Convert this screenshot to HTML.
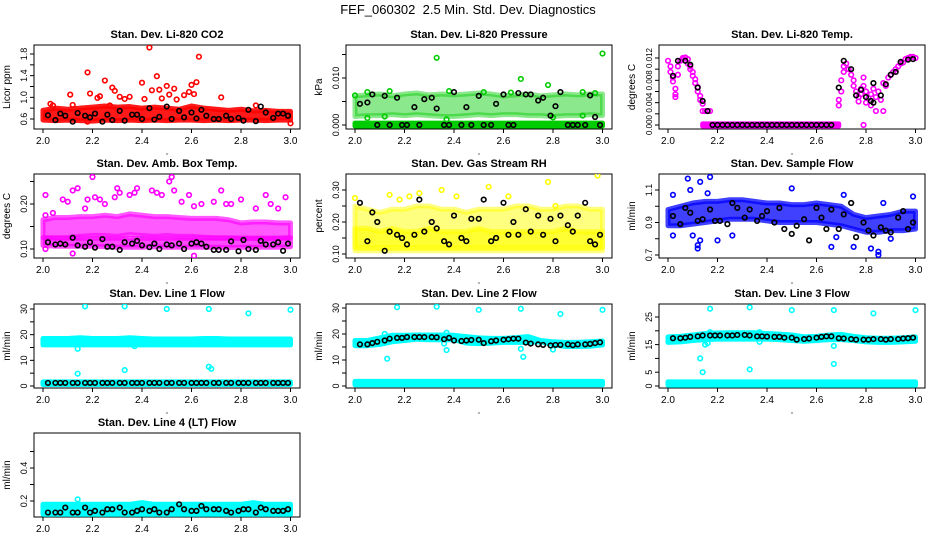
<!DOCTYPE html>
<html><head><meta charset="utf-8"><style>
html,body{margin:0;padding:0;background:#fff}
svg{display:block;font-family:"Liberation Sans",sans-serif}
</style></head><body>
<svg id="chart" width="936" height="540" viewBox="0 0 936 540">
<text x="468" y="14" text-anchor="middle" font-size="13">FEF_060302&#160; 2.5 Min. Std. Dev. Diagnostics</text>
</svg>
<script>
// shared x grids (time)
const xs21=[2.00,2.05,2.10,2.15,2.20,2.25,2.30,2.35,2.40,2.45,2.50,2.55,2.60,2.65,2.70,2.75,2.80,2.85,2.90,2.95,3.00];
const xsB=[2.02,2.05,2.07,2.09,2.12,2.14,2.17,2.19,2.21,2.24,2.26,2.28,2.31,2.33,2.36,2.38,2.40,2.43,2.45,2.47,2.50,2.52,2.55,2.57,2.60,2.62,2.64,2.66,2.69,2.71,2.74,2.76,2.79,2.81,2.83,2.86,2.88,2.90,2.93,2.95,2.97,2.99];
const xsFull=[2.00,3.00];

// P1 CO2
const co2Lo=[0.58,0.57,0.58,0.57,0.56,0.58,0.57,0.58,0.57,0.58,0.57,0.58,0.58,0.57,0.58,0.57,0.58,0.58,0.57,0.58,0.58];
const co2Hi=[0.76,0.80,0.78,0.80,0.82,0.84,0.82,0.83,0.80,0.82,0.80,0.78,0.84,0.80,0.78,0.76,0.78,0.75,0.76,0.74,0.74];
const co2OutX=[2.03,2.04,2.11,2.12,2.18,2.19,2.22,2.23,2.25,2.27,2.28,2.29,2.31,2.33,2.35,2.40,2.41,2.43,2.44,2.46,2.47,2.48,2.50,2.51,2.53,2.54,2.57,2.59,2.60,2.61,2.62,2.63,2.72,2.86,2.18,3.00];
const co2OutY=[0.88,0.85,1.05,0.86,1.46,1.07,0.99,1.02,1.31,0.85,1.18,1.12,1.01,0.97,1.01,1.27,0.97,1.92,1.13,1.39,1.14,0.98,1.21,1.05,1.16,0.96,1.04,1.10,1.23,1.06,1.28,1.75,1.00,0.85,0.55,0.52];
const co2Blk=[0.67,0.58,0.70,0.66,0.55,0.71,0.66,0.63,0.70,0.55,0.68,0.58,0.75,0.57,0.68,0.68,0.60,0.80,0.59,0.64,0.83,0.60,0.75,0.63,0.72,0.61,0.77,0.66,0.60,0.60,0.66,0.60,0.62,0.57,0.77,0.56,0.83,0.72,0.62,0.70,0.70,0.66];

// P2 Pressure
const prZeroLo=[-0.0002,-0.0002], prZeroHi=[0.0004,0.0004];
const prLo=[0.0018,0.0020,0.0020,0.0022,0.0020,0.0022,0.0020,0.0018,0.0018,0.0020,0.0022,0.0020,0.0022,0.0022,0.0020,0.0020,0.0018,0.0020,0.0020,0.0022,0.0020];
const prHi=[0.0062,0.0064,0.0066,0.0062,0.0066,0.0068,0.0064,0.0066,0.0064,0.0066,0.0068,0.0066,0.0062,0.0064,0.0066,0.0062,0.0064,0.0066,0.0064,0.0066,0.0066];
const prOutX=[2.33,3.00,2.67,2.78,2.00,2.05,2.14,2.38,2.52,2.63,2.92,2.97,2.05,2.12,2.37,2.80,2.92];
const prOutY=[0.0143,0.0152,0.0098,0.0085,0.0063,0.0070,0.0072,0.0072,0.0070,0.0069,0.0070,0.0068,0.0015,0.0018,0.0012,0.0016,0.0020];
const prBlk=[0.0045,0.0048,0.0065,0,0.0062,0,0.0058,0,0,0.0038,0,0.0055,0.0058,0.0035,0,0,0.0070,0,0.0038,0,0.0062,0,0,0.0045,0.0065,0,0,0.0068,0.0065,0.0065,0.0052,0.0058,0.0020,0.0040,0.0070,0,0,0,0,0.0063,0.0017,0];

// P3 Temp
const tpZeroX=[2.14,2.69], tpZeroLo=[-0.0002,-0.0002], tpZeroHi=[0.0002,0.0002];
const tpX=[2.00,2.01,2.01,2.02,2.02,2.03,2.03,2.03,2.04,2.04,2.05,2.06,2.06,2.07,2.08,2.08,2.09,2.09,2.10,2.10,2.11,2.11,2.12,2.12,2.13,2.13,2.14,2.14,2.15,2.16,2.17,2.69,2.69,2.70,2.70,2.71,2.71,2.72,2.73,2.74,2.75,2.75,2.76,2.77,2.77,2.78,2.78,2.79,2.79,2.80,2.80,2.81,2.82,2.82,2.83,2.84,2.84,2.85,2.86,2.87,2.87,2.88,2.89,2.90,2.91,2.92,2.93,2.94,2.95,2.96,2.97,2.98,2.99,3.00,2.79];
const tpY=[0.0115,0.0105,0.0095,0.0085,0.0078,0.0065,0.0055,0.0050,0.0090,0.0105,0.0115,0.0120,0.0118,0.0121,0.0118,0.0110,0.0105,0.0100,0.0095,0.0088,0.0082,0.0075,0.0068,0.0060,0.0052,0.0045,0.0038,0.0025,0.0025,0.0025,0.0025,0.0035,0.0045,0.0060,0.0080,0.0095,0.0105,0.0110,0.0100,0.0090,0.0080,0.0070,0.0060,0.0050,0.0042,0.0065,0.0055,0.0085,0.0070,0.0060,0.0040,0.0048,0.0055,0.0035,0.0065,0.0050,0.0025,0.0060,0.0045,0.0075,0.0025,0.0070,0.0085,0.0090,0.0095,0.0100,0.0105,0.0110,0.0112,0.0118,0.0120,0.0122,0.0122,0.0120,0.0000];
const tpBlkX=[2.02,2.04,2.07,2.09,2.12,2.14,2.16,2.18,2.20,2.22,2.24,2.26,2.28,2.30,2.32,2.34,2.36,2.38,2.40,2.42,2.44,2.46,2.48,2.50,2.52,2.54,2.56,2.58,2.60,2.62,2.64,2.66,2.69,2.71,2.74,2.76,2.78,2.80,2.82,2.83,2.83,2.86,2.88,2.90,2.92,2.94,2.97,2.99];
const tpBlkY=[0.0088,0.0115,0.0115,0.0108,0.0067,0.0043,0.0025,0,0,0,0,0,0,0,0,0,0,0,0,0,0,0,0,0,0,0,0,0,0,0,0,0,0.0067,0.0115,0.0100,0.0053,0.0063,0.0050,0.0043,0.0075,0.0040,0.0053,0.0073,0.0090,0.0095,0.0113,0.0117,0.0118];

// P4 Amb box temp
const abLo1=[0.125,0.125,0.125,0.128,0.130,0.130,0.128,0.132,0.130,0.128,0.130,0.128,0.128,0.126,0.125,0.125,0.124,0.124,0.124,0.124,0.125];
const abHi1=[0.165,0.170,0.170,0.172,0.172,0.175,0.172,0.178,0.175,0.172,0.172,0.170,0.168,0.168,0.168,0.165,0.158,0.160,0.160,0.158,0.158];
const abLo2=[0.108,0.106,0.106,0.106,0.106,0.105,0.104,0.104,0.104,0.105,0.104,0.104,0.104,0.104,0.104,0.103,0.104,0.104,0.104,0.104,0.105];
const abHi2=[0.125,0.124,0.124,0.124,0.124,0.124,0.124,0.124,0.124,0.124,0.124,0.124,0.124,0.124,0.124,0.124,0.124,0.124,0.124,0.124,0.125];
const abOutX=[2.01,2.01,2.04,2.08,2.10,2.12,2.14,2.17,2.18,2.20,2.21,2.23,2.25,2.29,2.30,2.31,2.35,2.37,2.38,2.44,2.44,2.46,2.48,2.51,2.52,2.53,2.56,2.59,2.61,2.64,2.69,2.72,2.74,2.76,2.80,2.86,2.90,2.92,2.95,2.98,2.61,2.12,2.01];
const abOutY=[0.22,0.175,0.18,0.21,0.205,0.23,0.235,0.19,0.21,0.26,0.215,0.21,0.20,0.215,0.235,0.225,0.22,0.225,0.235,0.275,0.23,0.225,0.22,0.25,0.26,0.23,0.205,0.22,0.195,0.20,0.205,0.23,0.20,0.20,0.21,0.19,0.22,0.20,0.19,0.215,0.085,0.09,0.10];
const abBlk=[0.115,0.110,0.112,0.110,0.125,0.108,0.105,0.115,0.103,0.122,0.105,0.105,0.098,0.115,0.112,0.118,0.108,0.104,0.112,0.100,0.110,0.108,0.112,0.100,0.112,0.115,0.112,0.105,0.098,0.098,0.098,0.117,0.095,0.120,0.100,0.098,0.118,0.110,0.110,0.115,0.096,0.112];

// P5 Gas stream RH
const rhLo=[0.11,0.11,0.11,0.11,0.11,0.11,0.11,0.11,0.11,0.11,0.11,0.11,0.11,0.11,0.11,0.11,0.11,0.11,0.11,0.11,0.11];
const rhHi=[0.25,0.24,0.23,0.24,0.24,0.25,0.25,0.24,0.24,0.23,0.24,0.24,0.24,0.25,0.25,0.24,0.24,0.25,0.25,0.24,0.24];
const rhLo2=[0.12,0.12,0.12,0.12,0.12,0.12,0.12,0.12,0.12,0.12,0.12,0.12,0.12,0.12,0.12,0.12,0.12,0.12,0.12,0.12,0.12];
const rhHi2=[0.18,0.18,0.17,0.18,0.17,0.17,0.18,0.17,0.17,0.17,0.18,0.17,0.17,0.17,0.17,0.17,0.17,0.18,0.17,0.17,0.17];
const rhOutX=[2.00,2.14,2.18,2.22,2.35,2.41,2.54,2.62,2.78,2.98,2.81,2.26];
const rhOutY=[0.275,0.285,0.27,0.28,0.30,0.28,0.31,0.28,0.325,0.345,0.25,0.29];
const rhBlk=[0.26,0.14,0.23,0.20,0.11,0.17,0.16,0.15,0.13,0.16,0.27,0.17,0.20,0.18,0.14,0.13,0.22,0.15,0.14,0.21,0.21,0.27,0.14,0.15,0.26,0.16,0.20,0.16,0.24,0.17,0.22,0.16,0.21,0.14,0.22,0.19,0.17,0.22,0.26,0.14,0.13,0.16];

// P6 Sample flow
const sfLo=[0.88,0.88,0.89,0.90,0.91,0.92,0.92,0.92,0.91,0.90,0.90,0.90,0.90,0.89,0.88,0.86,0.84,0.84,0.85,0.85,0.86];
const sfHi=[0.98,1.00,1.02,1.03,1.03,1.04,1.04,1.03,1.02,1.02,1.01,1.01,1.02,1.01,1.00,0.95,0.93,0.94,0.95,0.97,0.97];
const sfOutX=[2.08,2.09,2.13,2.16,2.17,2.02,2.10,2.02,2.12,2.12,2.13,2.20,2.26,2.50,2.71,2.66,2.75,2.82,2.85,2.85,2.99,2.87,2.90,2.68];
const sfOutY=[1.17,1.10,1.15,1.08,1.18,1.07,0.82,0.82,0.76,0.74,0.79,0.79,0.82,1.11,1.07,0.75,0.75,0.74,0.70,0.72,1.06,1.02,0.80,0.81];
const sfBlk=[0.94,0.89,0.99,0.96,0.91,0.92,0.98,0.91,0.91,0.89,1.02,0.99,0.93,0.98,0.91,0.94,0.97,0.90,0.99,0.86,0.83,0.88,0.92,0.79,0.99,0.93,0.86,0.98,0.86,0.95,1.02,0.81,0.90,0.85,0.82,0.87,0.85,0.84,0.93,0.97,0.86,0.90];

// P7 Line 1
const l1Lo=[16.0,16.0,16.0,16.0,16.0,16.0,16.0,16.0,16.0,16.0,16.0,16.0,16.0,16.0,16.0,16.0,16.0,16.0,16.0,16.0,16.0];
const l1Hi=[18.5,18.5,18.5,18.8,18.5,18.5,18.5,18.8,18.5,18.3,18.3,18.3,18.3,18.5,18.5,18.3,18.3,18.3,18.3,18.3,18.3];
const l1BLo=[0.6,0.6], l1BHi=[1.6,1.6];
const l1OutX=[2.17,2.33,2.50,2.67,2.83,3.00,2.14,2.33,2.67,2.68,2.14,2.37];
const l1OutY=[31,31,30,30,28.3,29.7,4.8,6.2,7.5,6.7,14.5,15.5];
const l1Blk=[1.2,1.2,1.2,1.2,1.2,1.2,1.2,1.2,1.2,1.2,1.2,1.2,1.2,1.2,1.2,1.2,1.2,1.2,1.2,1.2,1.2,1.2,1.2,1.2,1.2,1.2,1.2,1.2,1.2,1.2,1.2,1.2,1.2,1.2,1.2,1.2,1.2,1.2,1.2,1.2,1.2,1.2];

// P8 Line 2
const l2Lo=[15.5,15.5,16,17,17.5,18,17.8,17.8,17.8,16.5,16.3,16.5,16.8,16.8,16.8,17,16,15.2,15.2,15.3,15.8];
const l2Hi=[17.5,17.5,18.5,19.5,19.5,19.6,19.6,19.6,19.5,19,18.5,18.3,18.3,18.6,19,17.5,17.0,16.8,16.8,17,17.3];
const l2BLo=[0.5,0.5], l2BHi=[1.8,1.8];
const l2OutX=[2.12,2.13,2.17,2.33,2.36,2.37,2.37,2.50,2.67,2.67,2.68,2.80,2.83,3.00];
const l2OutY=[20,10.5,30.3,30.5,16.3,13.8,20.5,29.3,29.7,14.3,11.2,14,27.7,29.3];
const l2Blk=[16,16,16.5,17,17.5,18.2,18.5,18.5,18.8,18.8,18.8,18.8,18.8,18.7,18.0,18.5,17.5,17.3,17.5,17.7,17.8,16.5,17.2,17.5,17.8,18.0,18.2,18.2,16.7,16.3,16.0,15.8,15.6,15.8,15.8,16.0,15.7,16.0,16.0,16.2,16.5,16.8];

// P9 Line 3
const l3Lo=[15.8,16,16.5,16.8,17,17,17,17,17,16.8,16.5,16.2,16.5,16.8,16.8,16.5,16,15.8,15.8,16,16.2];
const l3Hi=[17.8,18,18.5,19,19.2,19.3,19.3,19.3,19,18.8,18.5,17.8,18,18.5,18.7,18,17.5,17.3,17.3,17.5,17.8];
const l3BLo=[0.3,0.3], l3BHi=[1.5,1.5];
const l3OutX=[2.13,2.14,2.15,2.16,2.17,2.17,2.33,2.33,2.37,2.37,2.50,2.67,2.67,2.67,2.83,3.00];
const l3OutY=[10,5,15,15.5,28,19.5,28.5,6,16,19.5,27.5,27.5,14.5,8,26.3,27.5];
const l3Blk=[17.3,17.3,17.5,17.8,18,18.3,18.3,18.3,18.3,18.3,18.3,18.5,18.5,18.3,18,18,17.9,17.8,17.8,17.5,17.5,16.8,17,17.2,17.5,17.8,18,18,17.3,17.2,17.0,16.8,16.8,16.8,17,17,16.8,17,17,17.2,17.3,17.5];

// P10 Line 4 (LT)
const l4Lo=[0.12,0.12,0.12,0.12,0.12,0.12,0.12,0.12,0.12,0.12,0.12,0.12,0.12,0.12,0.12,0.12,0.12,0.12,0.12,0.12,0.12];
const l4Hi=[0.18,0.18,0.18,0.18,0.18,0.18,0.18,0.18,0.19,0.18,0.18,0.18,0.18,0.18,0.18,0.18,0.18,0.19,0.18,0.18,0.18];
const l4OutX=[2.17,2.50,2.83,2.14];
const l4OutY=[0.68,0.72,0.65,0.21];
const l4Blk=[0.13,0.13,0.13,0.16,0.13,0.13,0.16,0.13,0.14,0.13,0.15,0.15,0.16,0.13,0.13,0.14,0.15,0.14,0.15,0.13,0.13,0.15,0.18,0.15,0.14,0.14,0.17,0.15,0.15,0.15,0.14,0.13,0.14,0.15,0.15,0.13,0.16,0.15,0.14,0.14,0.14,0.15];

const xTicks=[2.0,2.2,2.4,2.6,2.8,3.0];
const xTickLabels=["2.0","2.2","2.4","2.6","2.8","3.0"];

const NS="http://www.w3.org/2000/svg";
const svg=document.getElementById('chart');
const colL=[34,346,659], rowT=[45,174,304,433];
const W=266,H=84;
function mk(tag,attrs,parent){const e=document.createElementNS(NS,tag);for(const k in attrs)e.setAttribute(k,attrs[k]);(parent||svg).appendChild(e);return e;}

const panels=[
 {name:'co2',title:'Stan. Dev. Li-820 CO2',ylab:'Licor ppm',c:0,r:0,col:'#ff0000',v1:0.6,p1:119,v2:1.8,p2:54,ticks:[0.6,0.8,1.0,1.2,1.4,1.6,1.8],labs:{'0.6':'0.6','1':'1.0','1.4':'1.4','1.8':'1.8'},fs:9,
  bands:[[xs21,co2Lo,co2Hi,0.9]],outX:co2OutX,outY:co2OutY,bX:xsB,bY:co2Blk},
 {name:'pressure',title:'Stan. Dev. Li-820 Pressure',ylab:'kPa',c:1,r:0,col:'#00cc00',v1:0,p1:125,v2:0.010,p2:78,ticks:[0,0.005,0.010,0.015],labs:{'0':'0.000','0.01':'0.010'},fs:9,
  bands:[[xsFull,prZeroLo,prZeroHi,1],[xs21,prLo,prHi,0.45]],outX:prOutX,outY:prOutY,bX:xsB,bY:prBlk},
 {name:'temp',title:'Stan. Dev. Li-820 Temp.',ylab:'degrees C',c:2,r:0,col:'#ff00ff',v1:0,p1:125,v2:0.012,p2:58,ticks:[0,0.002,0.004,0.006,0.008,0.010,0.012],labs:{'0':'0.000','0.004':'0.004','0.008':'0.008','0.012':'0.012'},fs:8,
  bands:[[tpZeroX,tpZeroLo,tpZeroHi,1]],outX:tpX,outY:tpY,bX:tpBlkX,bY:tpBlkY},
 {name:'amb-box',title:'Stan. Dev. Amb. Box Temp.',ylab:'degrees C',c:0,r:1,col:'#ff00ff',v1:0.10,p1:249,v2:0.20,p2:204,ticks:[0.10,0.15,0.20,0.25],labs:{'0.1':'0.10','0.2':'0.20'},fs:9,
  bands:[[xs21,abLo1,abHi1,0.65],[xs21,abLo2,abHi2,0.7]],outX:abOutX,outY:abOutY,bX:xsB,bY:abBlk},
 {name:'rh',title:'Stan. Dev. Gas Stream RH',ylab:'percent',c:1,r:1,col:'#ffff00',v1:0.10,p1:254,v2:0.30,p2:190,ticks:[0.10,0.15,0.20,0.25,0.30],labs:{'0.1':'0.10','0.2':'0.20','0.3':'0.30'},fs:9,
  bands:[[xs21,rhLo,rhHi,0.5],[xs21,rhLo2,rhHi2,0.6]],outX:rhOutX,outY:rhOutY,bX:xsB,bY:rhBlk},
 {name:'sample-flow',title:'Stan. Dev. Sample Flow',ylab:'ml/min',c:2,r:1,col:'#0000ff',v1:0.7,p1:255,v2:1.1,p2:190,ticks:[0.7,0.8,0.9,1.0,1.1],labs:{'0.7':'0.7','0.9':'0.9','1.1':'1.1'},fs:9,
  bands:[[xs21,sfLo,sfHi,0.75]],outX:sfOutX,outY:sfOutY,bX:xsB,bY:sfBlk},
 {name:'line1',title:'Stan. Dev. Line 1 Flow',ylab:'ml/min',c:0,r:2,col:'#00ffff',v1:0,p1:386,v2:30,p2:309,ticks:[0,5,10,15,20,25,30],labs:{'0':'0','10':'10','20':'20','30':'30'},fs:9,
  bands:[[xs21,l1Lo,l1Hi,1],[xsFull,l1BLo,l1BHi,1]],outX:l1OutX,outY:l1OutY,bX:xsB,bY:l1Blk},
 {name:'line2',title:'Stan. Dev. Line 2 Flow',ylab:'ml/min',c:1,r:2,col:'#00ffff',v1:0,p1:386,v2:30,p2:308,ticks:[0,5,10,15,20,25,30],labs:{'0':'0','10':'10','20':'20','30':'30'},fs:9,
  bands:[[xs21,l2Lo,l2Hi,1],[xsFull,l2BLo,l2BHi,1]],outX:l2OutX,outY:l2OutY,bX:xsB,bY:l2Blk},
 {name:'line3',title:'Stan. Dev. Line 3 Flow',ylab:'ml/min',c:2,r:2,col:'#00ffff',v1:0,p1:386,v2:25,p2:317,ticks:[0,5,10,15,20,25],labs:{'0':'0','5':'5','15':'15','25':'25'},fs:9,
  bands:[[xs21,l3Lo,l3Hi,1],[xsFull,l3BLo,l3BHi,1]],outX:l3OutX,outY:l3OutY,bX:xsB,bY:l3Blk},
 {name:'line4',title:'Stan. Dev. Line 4 (LT) Flow',ylab:'ml/min',c:0,r:3,col:'#00ffff',v1:0.2,p1:501,v2:0.4,p2:468,ticks:[0.2,0.3,0.4,0.5],labs:{'0.2':'0.2','0.4':'0.4'},fs:9,
  bands:[[xs21,l4Lo,l4Hi,1]],outX:l4OutX,outY:l4OutY,bX:xsB,bY:l4Blk}
];

panels.forEach(p=>{
  const L=colL[p.c],T=rowT[p.r],R=L+W,B=T+H;
  const xS=v=>L+9+(v-2)*247.5;
  const yS=v=>p.p1+(v-p.v1)*(p.p2-p.p1)/(p.v2-p.v1);
  const g=mk('g',{});
  
  
  const clipId='clip-'+p.name;
  const cp=mk('clipPath',{id:clipId},g);
  mk('rect',{x:L,y:T,width:W,height:H},cp);
  const t=mk('text',{x:L+W/2,y:T-7,'text-anchor':'middle','font-size':'11','font-weight':'bold'},g);
  t.textContent=p.title;
  
  
  const yl=mk('text',{x:0,y:0,'text-anchor':'middle','font-size':'10',transform:`translate(${L-24},${T+H/2}) rotate(-90)`},g);
  yl.textContent=p.ylab;
  
  
  const box=mk('rect',{x:L,y:T,width:W,height:H,fill:'none',stroke:'#000','stroke-width':1},g);
  
  
  const xa=mk('g',{},g);
  
  
  xTicks.forEach((v,i)=>{
    mk('line',{x1:xS(v),x2:xS(v),y1:B,y2:B+4,stroke:'#000'},xa);
    const tl=mk('text',{x:xS(v),y:B+15,'text-anchor':'middle','font-size':'10'},xa);
    tl.textContent=xTickLabels[i];
  });
  mk('circle',{cx:L+W/2,cy:B+25,r:0.6,fill:'#000'},xa);
  const ya=mk('g',{},g);
  
  
  p.ticks.forEach(v=>{
    const y=yS(v);
    mk('line',{x1:L-4,x2:L,y1:y,y2:y,stroke:'#000'},ya);
    const key=String(+v.toFixed(4));
    if(p.labs[key]!==undefined){
      const tl=mk('text',{x:0,y:0,'text-anchor':'middle','font-size':p.fs,transform:`translate(${L-7},${y}) rotate(-90)`},ya);
      tl.textContent=p.labs[key];
    }
  });
  const dg=mk('g',{'clip-path':`url(#${clipId})`},g);
  p.bands.forEach((b,bi)=>{
    const [bx,lo,hi,op]=b;
    let pts=bx.map((x,i)=>xS(x)+','+yS(hi[i]));
    for(let i=bx.length-1;i>=0;i--)pts.push(xS(bx[i])+','+yS(lo[i]));
    const pg=mk('polygon',{points:pts.join(' '),fill:p.col,stroke:p.col,'stroke-width':5,'stroke-linejoin':'round','fill-opacity':op,'stroke-opacity':op},dg);
    
    
  });
  p.outX.forEach((x,i)=>{
    const c=mk('circle',{cx:xS(x),cy:yS(p.outY[i]),r:2.3,fill:'none',stroke:p.col,'stroke-width':1.6},dg);
    
    
  });
  p.bX.forEach((x,i)=>{
    const c=mk('circle',{cx:xS(x),cy:yS(p.bY[i]),r:2.3,fill:'none',stroke:'#000','stroke-width':1.6},dg);
    
    
  });
});
</script>
</body></html>
